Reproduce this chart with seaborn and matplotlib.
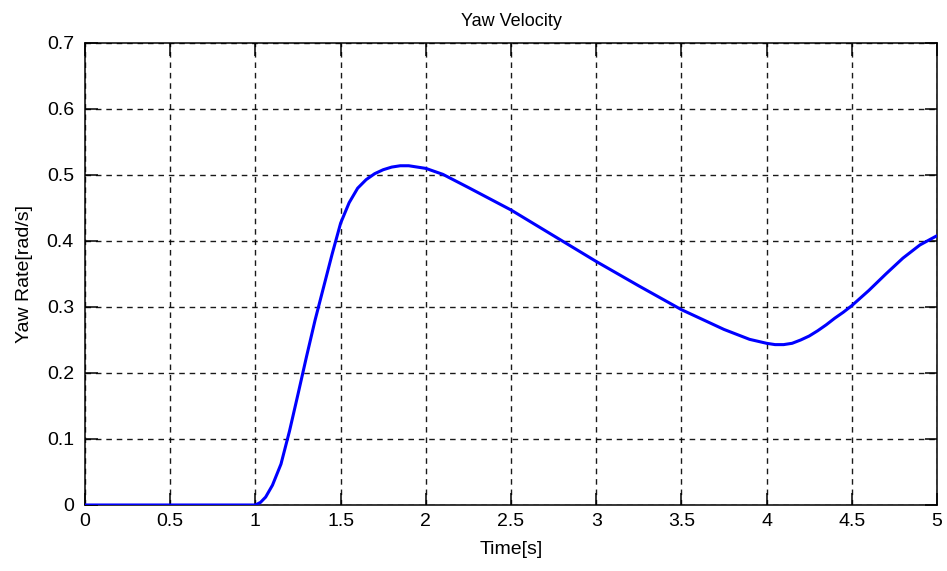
import matplotlib
matplotlib.use("Agg")
import matplotlib.pyplot as plt
import seaborn as sns
import pandas as pd

# Data
time_s = [0.0, 0.5, 1.0, 1.03, 1.06, 1.1, 1.15, 1.2, 1.25, 1.3, 1.35, 1.4, 1.45,
          1.5, 1.55, 1.6, 1.65, 1.7, 1.75, 1.8, 1.85, 1.9, 2.0, 2.1, 2.25, 2.5,
          2.75, 3.0, 3.25, 3.5, 3.75, 3.9, 4.0, 4.05, 4.1, 4.15, 4.2, 4.25, 4.3,
          4.35, 4.4, 4.45, 4.5, 4.6, 4.7, 4.8, 4.9, 5.0]
yaw_rate = [0.0, 0.0, 0.0, 0.004, 0.012, 0.030, 0.062, 0.112, 0.168, 0.225, 0.280,
            0.330, 0.380, 0.427, 0.458, 0.480, 0.493, 0.502, 0.508, 0.512, 0.514,
            0.514, 0.510, 0.501, 0.481, 0.447, 0.408, 0.369, 0.332, 0.296, 0.266,
            0.251, 0.245, 0.243, 0.243, 0.245, 0.250, 0.256, 0.264, 0.273, 0.283,
            0.292, 0.302, 0.325, 0.350, 0.374, 0.394, 0.408]
x_ticks = [0, 0.5, 1, 1.5, 2, 2.5, 3, 3.5, 4, 4.5, 5]
x_tick_labels = ["0", "0.5", "1", "1.5", "2", "2.5", "3", "3.5", "4", "4.5", "5"]
y_ticks = [0, 0.1, 0.2, 0.3, 0.4, 0.5, 0.6, 0.7]
y_tick_labels = ["0", "0.1", "0.2", "0.3", "0.4", "0.5", "0.6", "0.7"]

sns.set_theme(style="white")
plt.rcParams["font.family"] = ["Liberation Sans", "DejaVu Sans"]

df = pd.DataFrame({"Time": time_s, "YawRate": yaw_rate})

fig = plt.figure(figsize=(9.47, 5.71), dpi=100)
fig.patch.set_facecolor("white")
ax = fig.add_axes([0.0898, 0.1156, 0.8996, 0.8091])

sns.lineplot(data=df, x="Time", y="YawRate", ax=ax, color="#0000ff",
             linewidth=2.2, zorder=3)

ax.set_xlim(0, 5)
ax.set_ylim(0, 0.7)
ax.set_xticks(x_ticks)
ax.set_xticklabels(x_tick_labels)
ax.set_yticks(y_ticks)
ax.set_yticklabels(y_tick_labels)

ax.grid(True, color="black", linestyle=(0, (4, 3.5)), linewidth=1.0, alpha=0.9)
for s in ax.spines.values():
    s.set_color("black")
    s.set_linewidth(1.1)
    s.set_visible(True)

ax.tick_params(axis="both", which="both", direction="in", length=9, width=1.1,
               colors="black", labelsize=14, top=True, right=True,
               bottom=True, left=True)
ax.tick_params(axis="x", pad=6)
ax.tick_params(axis="y", pad=8)

ax.set_title("Yaw Velocity", fontsize=13, pad=12, color="black")
ax.set_xlabel("Time[s]", fontsize=14, labelpad=8, color="black")
ax.set_ylabel("Yaw Rate[rad/s]", fontsize=14, labelpad=10, color="black")

fig.savefig("out.png", dpi=100, facecolor="white")
